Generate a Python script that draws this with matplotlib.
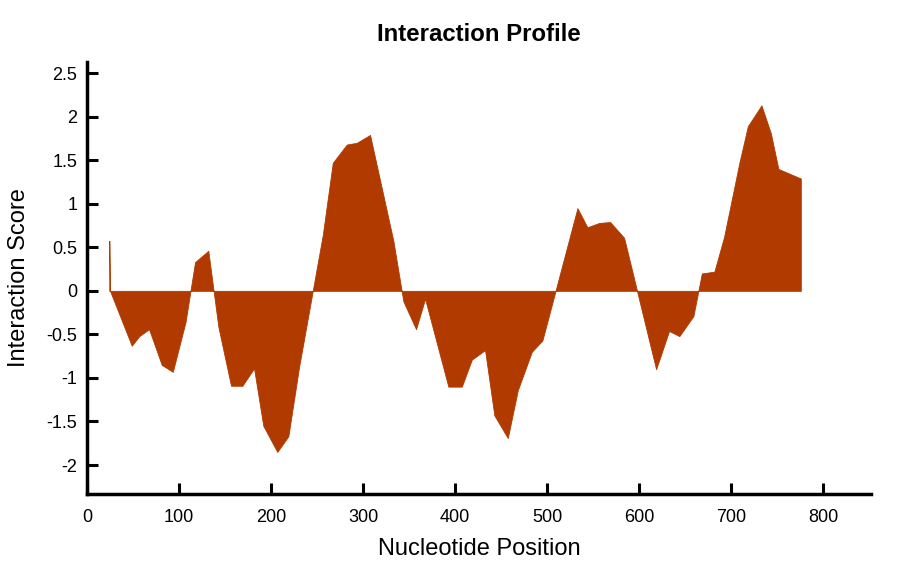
import matplotlib

matplotlib.use("Agg")
import matplotlib.pyplot as plt
from matplotlib.ticker import FuncFormatter

# profile vertices
positions = [24.2, 25.0, 48.6, 56.8, 67.4, 81.2, 93.2, 107.0, 117.4, 131.8,
             142.7, 156.5, 168.8, 181.5, 191.6, 206.8, 218.8, 230.5, 256.2, 267.1,
             282.3, 293.2, 307.6, 333.0, 343.8, 357.6, 367.4, 392.7, 407.3, 418.2,
             432.6, 442.7, 457.3, 468.2, 483.4, 494.9, 533.0, 543.8, 556.8, 568.5,
             583.7, 618.5, 632.6, 643.8, 659.0, 668.2, 681.8, 692.4, 709.0, 718.2,
             733.0, 743.2, 751.4, 775.8]
scores = [0.575, 0.0, -0.63, -0.52, -0.44, -0.85, -0.93, -0.36, 0.33, 0.46,
          -0.41, -1.09, -1.09, -0.89, -1.55, -1.85, -1.67, -0.87, 0.64, 1.47,
          1.68, 1.70, 1.79, 0.57, -0.12, -0.44, -0.09, -1.10, -1.10, -0.79,
          -0.68, -1.43, -1.69, -1.14, -0.70, -0.57, 0.95, 0.73, 0.78, 0.79,
          0.61, -0.90, -0.46, -0.52, -0.29, 0.20, 0.22, 0.62, 1.47, 1.89,
          2.13, 1.81, 1.40, 1.29]

x_ticks = [0, 100, 200, 300, 400, 500, 600, 700, 800]
y_ticks = [-2, -1.5, -1, -0.5, 0, 0.5, 1, 1.5, 2, 2.5]

FILL_COLOR = "#b03a00"

plt.rcParams["font.family"] = ["Liberation Sans", "DejaVu Sans"]
plt.rcParams["axes.unicode_minus"] = False

fig = plt.figure(figsize=(9, 5.62), dpi=100)
ax = fig.add_axes([0.0967, 0.121, 0.871, 0.769])

ax.fill_between(positions, scores, 0, color=FILL_COLOR, linewidth=0.6, edgecolor=FILL_COLOR)

ax.set_xlim(0, 852)
ax.set_ylim(-2.333, 2.63)
ax.set_xticks(x_ticks)
ax.set_yticks(y_ticks)
ax.yaxis.set_major_formatter(FuncFormatter(lambda v, _: f"{v:g}"))

for side in ("top", "right"):
    ax.spines[side].set_visible(False)
for side in ("left", "bottom"):
    ax.spines[side].set_linewidth(2.5)

ax.tick_params(axis="both", direction="in", length=8, width=2.2, labelsize=13)
ax.tick_params(axis="x", pad=11)
ax.tick_params(axis="y", pad=7)

ax.set_xlabel("Nucleotide Position", fontsize=17, labelpad=8.5)
ax.set_ylabel("Interaction Score", fontsize=17, labelpad=12)
ax.set_title("Interaction Profile", fontsize=17.3, fontweight="bold", pad=15)

fig.savefig("out.png", dpi=100)
